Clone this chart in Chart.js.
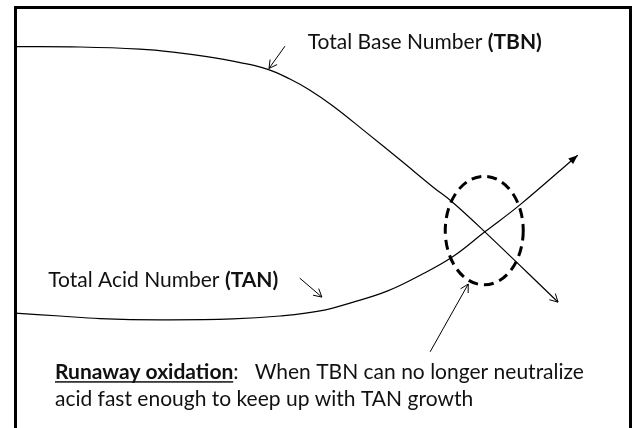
<!DOCTYPE html>
<html>
<head>
<meta charset="utf-8">
<script src="https://cdn.jsdelivr.net/npm/chart.js@4"></script>
<style>
  html, body { margin: 0; padding: 0; background: #fff; }
  #wrap { width: 636px; height: 428px; }
</style>
</head>
<body>
<div id="wrap"><canvas id="diagram"></canvas></div>
<script>
// axes run 0..100 in both directions (time -> right, number -> up)
const tbnX = [0, 10.6, 20.3, 25.7, 31.2, 36.6, 41.1, 44.7, 47.9, 51.7, 57.2, 62.6, 68.0, 71.1, 76.4, 88.3];
const tbnY = [90.6, 90.5, 90.0, 89.3, 88.2, 86.8, 85.2, 82.9, 80.3, 76.5, 70.1, 63.7, 57.2, 53.7, 46.6, 29.9];

const tanX = [0, 7.3, 13.8, 23.6, 35.4, 43.1, 49.6, 55.0, 60.5, 65.9, 71.1, 76.4, 82.1, 91.5];
const tanY = [27.3, 26.6, 26.0, 25.7, 25.9, 26.6, 27.8, 29.9, 32.5, 36.3, 40.6, 46.6, 53.0, 64.8];

// little pointer arrows: [from, to]
const tbnPointer = [[43.9, 90.7], [41.3, 85.4]];
const tanPointer = [[46.3, 35.6], [49.9, 31.1]];
const runawayPointer = [[67.5, 18.1], [73.7, 34.2]];

// crossover zone
const zoneCenter = [76.3, 46.9];
const zoneRadius = [6.34, 12.9];

// labels: anchor is left end of baseline
const tbnLabel = [{ t: "Total Base Number " }, { t: "(TBN)", b: true }];
const tbnLabelAt = [47.6, 90.0];
const tanLabel = [{ t: "Total Acid Number " }, { t: "(TAN)", b: true }];
const tanLabelAt = [5.4, 33.5];
const noteLine1 = [{ t: "Runaway oxidation", b: true, u: true }, { t: ":   When TBN can no longer neutralize" }];
const noteLine2 = [{ t: "acid fast enough to keep up with TAN growth" }];
const noteAt = [[6.5, 11.6], [6.5, 5.3]];

const FONT = "Lato";
const FONT_SIZE = 21;

const toPoints = (xs, ys) => xs.map((x, i) => ({ x: x, y: ys[i] }));
const segment = (pair) => pair.map((p) => ({ x: p[0], y: p[1] }));

const drawHead = (ctx, from, to, filled) => {
  const ang = Math.atan2(to.y - from.y, to.x - from.x);
  const len = filled ? 10 : 9;
  const spread = filled ? 0.38 : 0.5;
  ctx.beginPath();
  ctx.moveTo(to.x - len * Math.cos(ang - spread), to.y - len * Math.sin(ang - spread));
  ctx.lineTo(to.x, to.y);
  ctx.lineTo(to.x - len * Math.cos(ang + spread), to.y - len * Math.sin(ang + spread));
  if (filled) {
    ctx.closePath();
    ctx.fill();
  } else {
    ctx.stroke();
  }
};

const drawRuns = (ctx, runs, x, y) => {
  runs.forEach((run) => {
    ctx.font = (run.b ? "bold " : "") + FONT_SIZE + "px " + FONT;
    ctx.fillText(run.t, x, y);
    const w = ctx.measureText(run.t).width;
    if (run.u) {
      ctx.fillRect(x, y + 2, w, 1.5);
    }
    x += w;
  });
};

const diagramPlugin = {
  id: "diagram",
  beforeDraw(chart) {
    const ctx = chart.ctx;
    ctx.save();
    ctx.fillStyle = "#fff";
    ctx.fillRect(0, 0, chart.width, chart.height);
    ctx.restore();
  },
  afterDatasetsDraw(chart) {
    const ctx = chart.ctx;
    const xs = chart.scales.x;
    const ys = chart.scales.y;
    const px = (p) => ({ x: xs.getPixelForValue(p[0]), y: ys.getPixelForValue(p[1]) });

    ctx.save();
    ctx.strokeStyle = "#000";
    ctx.fillStyle = "#000";
    ctx.lineWidth = 1;

    // arrow heads at the end of each dataset flagged with one
    chart.data.datasets.forEach((ds, i) => {
      if (!ds.arrow) return;
      const pts = chart.getDatasetMeta(i).data;
      const a = pts[pts.length - 2];
      const b = pts[pts.length - 1];
      drawHead(ctx, { x: a.x, y: a.y }, { x: b.x, y: b.y }, ds.arrow === "filled");
    });

    // dashed ellipse round the crossing
    const c = px(zoneCenter);
    const rx = Math.abs(xs.getPixelForValue(zoneCenter[0] + zoneRadius[0]) - c.x);
    const ry = Math.abs(ys.getPixelForValue(zoneCenter[1] + zoneRadius[1]) - c.y);
    ctx.beginPath();
    ctx.setLineDash([10, 6]);
    ctx.lineWidth = 3;
    ctx.ellipse(c.x, c.y, rx, ry, 0, 0, Math.PI * 2);
    ctx.stroke();
    ctx.setLineDash([]);

    // text
    ctx.fillStyle = "#111";
    ctx.textBaseline = "alphabetic";
    ctx.textAlign = "left";
    let p = px(tbnLabelAt);
    drawRuns(ctx, tbnLabel, p.x, p.y);
    p = px(tanLabelAt);
    drawRuns(ctx, tanLabel, p.x, p.y);
    p = px(noteAt[0]);
    drawRuns(ctx, noteLine1, p.x, p.y);
    p = px(noteAt[1]);
    drawRuns(ctx, noteLine2, p.x, p.y);
    ctx.restore();
  },
  afterDraw(chart) {
    // slide frame (bottom edge runs off the picture)
    const a = chart.chartArea;
    const ctx = chart.ctx;
    ctx.save();
    ctx.strokeStyle = "#000";
    ctx.lineWidth = 3;
    ctx.strokeRect(a.left + 0.5, a.top + 0.5, a.right - a.left, a.bottom - a.top + 20);
    ctx.restore();
  }
};

const lineStyle = {
  pointRadius: 0,
  borderColor: "#000",
  borderWidth: 1.2,
  fill: false
};

new Chart(document.getElementById("diagram"), {
  type: "line",
  data: {
    datasets: [
      Object.assign({ label: "TBN", data: toPoints(tbnX, tbnY), tension: 0.4, arrow: "open" }, lineStyle),
      Object.assign({ label: "TAN", data: toPoints(tanX, tanY), tension: 0.4, arrow: "filled" }, lineStyle),
      Object.assign({ label: "tbn pointer", data: segment(tbnPointer), tension: 0, arrow: "open" }, lineStyle, { borderWidth: 1 }),
      Object.assign({ label: "tan pointer", data: segment(tanPointer), tension: 0, arrow: "open" }, lineStyle, { borderWidth: 1 }),
      Object.assign({ label: "runaway pointer", data: segment(runawayPointer), tension: 0, arrow: "open" }, lineStyle, { borderWidth: 1 })
    ]
  },
  options: {
    responsive: true,
    maintainAspectRatio: false,
    animation: false,
    layout: { padding: { left: 15, top: 7, right: 6, bottom: 0 } },
    scales: {
      x: { type: "linear", min: 0, max: 100, display: false },
      y: { type: "linear", min: 0, max: 100, display: false }
    },
    plugins: {
      legend: { display: false },
      tooltip: { enabled: false }
    }
  },
  plugins: [diagramPlugin]
});
</script>
</body>
</html>
